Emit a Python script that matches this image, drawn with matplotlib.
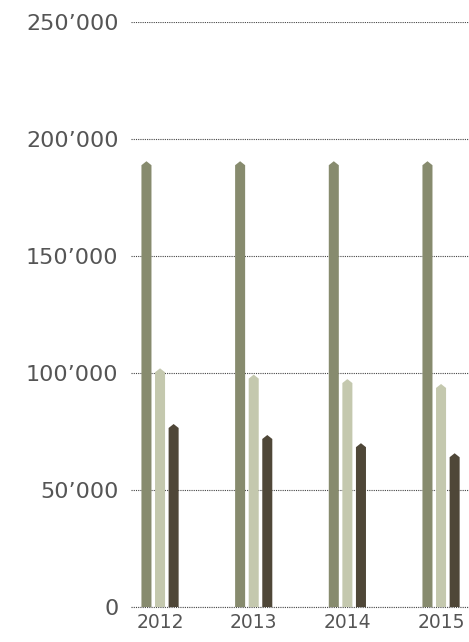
import matplotlib.pyplot as plt
from matplotlib.patches import Polygon
from matplotlib.ticker import FuncFormatter

# ----- Data -----
years = ["2012", "2013", "2014", "2015"]
series_a = [190500, 190500, 190500, 190500]
series_b = [102000, 99300, 97400, 95300]
series_c = [78200, 73500, 70000, 65700]
colors = ["#878b6e", "#c4c8ae", "#4f4738"]
y_ticks = [0, 50000, 100000, 150000, 200000, 250000]

# ----- Plot -----
fig = plt.figure(figsize=(4.69, 6.42), dpi=100)
ax = fig.add_axes([131 / 469, 1 - 607 / 642, 338 / 469, 585 / 642])

width = 0.107
offsets = [-0.145, 0.0, 0.145]
tip = 1700  # height of pointed cap in data units


def pointed_bar(x, value, color):
    x0, x1 = x - width / 2, x + width / 2
    pts = [(x0, 0), (x0, value - tip), (x, value), (x1, value - tip), (x1, 0)]
    ax.add_patch(Polygon(pts, closed=True, facecolor=color, edgecolor="none", zorder=3))


for i in range(len(years)):
    for vals, off, col in zip([series_a, series_b, series_c], offsets, colors):
        pointed_bar(i + off, vals[i], col)

ax.set_xlim(-0.31, 338 / 93.67 - 0.31)
ax.set_ylim(0, 250000)
ax.set_xticks(range(len(years)))
ax.set_xticklabels(years)
ax.set_yticks(y_ticks)
ax.yaxis.set_major_formatter(FuncFormatter(lambda v, p: f"{int(v):,}".replace(",", "\u2019")))

for s in ax.spines.values():
    s.set_visible(False)
ax.grid(axis="y", linestyle=(0, (1, 1)), linewidth=0.8, color="#444444", zorder=0)
ax.axhline(0, linestyle=(0, (1, 1)), linewidth=0.8, color="#444444", zorder=2, clip_on=False)
ax.set_axisbelow(True)
ax.tick_params(axis="y", length=0, pad=9, labelsize=16, labelcolor="#555555")
ax.tick_params(axis="x", length=0, pad=4, labelsize=13.5, labelcolor="#555555")

plt.savefig("out.png", dpi=100)
